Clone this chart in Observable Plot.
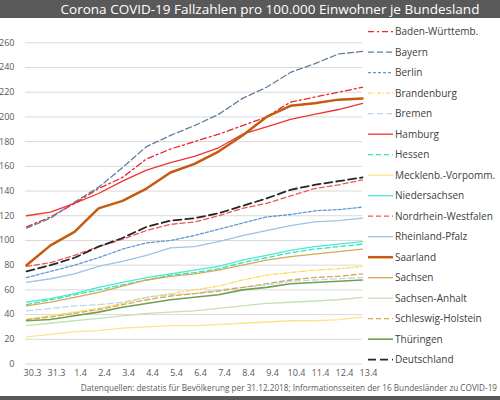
<!DOCTYPE html>
<html><head><meta charset="utf-8">
<script src="https://cdn.jsdelivr.net/npm/d3@7"></script>
<script src="https://cdn.jsdelivr.net/npm/@observablehq/plot@0.6"></script>
<style>
body{margin:0;background:#fff;font-family:"Open Sans",sans-serif;}
#wrap{position:relative;width:500px;height:400px;overflow:hidden;background:#fff;}
#title{height:18px;line-height:18px;background:#595959;color:#fff;font-size:13.5px;text-align:center;padding-left:40px;box-sizing:border-box;white-space:nowrap;}
#caption{position:absolute;left:0;top:382px;width:497px;text-align:right;font-size:8.2px;color:#595959;white-space:nowrap;}
#band{position:absolute;left:0;top:396px;width:500px;height:4px;background:#595959;}
#legend{position:absolute;left:360px;top:20px;}
</style></head>
<body>
<div id="wrap">
<div id="title">Corona COVID-19 Fallzahlen pro 100.000 Einwohner je Bundesland</div>
<div id="chart"></div>
<svg id="legend" width="140" height="360"></svg>
<div id="caption">Datenquellen: destatis für Bevölkerung per 31.12.2018; Informationsseiten der 16 Bundesländer zu COVID-19</div>
<div id="band"></div>
</div>
<script>
const dates = ["30.3","31.3","1.4","2.4","3.4","4.4","5.4","6.4","7.4","8.4","9.4","10.4","11.4","12.4","13.4"];
const yTicks = [0,20,40,60,80,100,120,140,160,180,200,220,240,260];

const badenWuerttemberg = [111,119,130,142,151,166,174,180,186,193,200,212,216,220,224];
const bayern            = [110,118,131,143,159,176,185,193,202,215,224,236,243,251,253];
const berlin            = [70,75,80,86,93,98,100,104,109,114,119,121,124,125,127];
const brandenburg       = [36,39,42,45,49,54,57,60,63,68,72,74,76,77,79];
const bremen            = [43,45,47,48,50,54,56,57,60,62,64,67,68,69,70];
const hamburg           = [120,123,130,138,148,157,163,168,175,186,192,198,202,206,211];
const hessen            = [48,52,56,60,64,68,72,74,77,82,86,90,93,95,97];
const mecklenburgVorp   = [22,24,26,27,29,30,31,31,32,33,34,35,35,36,38];
const niedersachsen     = [50,53,57,62,66,70,73,76,79,84,88,92,95,97,99];
const nordrheinWestf    = [79,82,88,95,101,108,113,115,120,126,130,136,142,145,149];
const rheinlandPfalz    = [66,69,73,79,83,88,94,95,99,104,108,112,115,116,118];
const saarland          = [80,96,107,126,132,142,155,162,172,185,200,209,211,214,215];
const sachsen           = [47,50,54,58,63,68,71,73,76,80,84,87,89,91,93];
const sachsenAnhalt     = [31,33,35,37,39,41,42,43,45,47,49,50,51,52,54];
const schleswigHolstein = [36,38,41,44,48,52,55,57,59,62,65,68,70,71,73];
const thueringen        = [35,36,39,42,46,49,52,54,56,60,62,65,66,67,68];
const deutschland       = [75,80,86,95,102,111,116,118,122,128,134,141,145,148,151];

const seriesNames = ["Baden-Württemb.","Bayern","Berlin","Brandenburg","Bremen","Hamburg","Hessen","Mecklenb.-Vorpomm.","Niedersachsen","Nordrhein-Westfalen","Rheinland-Pfalz","Saarland","Sachsen","Sachsen-Anhalt","Schleswig-Holstein","Thüringen","Deutschland"];
const seriesValues = [badenWuerttemberg,bayern,berlin,brandenburg,bremen,hamburg,hessen,mecklenburgVorp,niedersachsen,nordrheinWestf,rheinlandPfalz,saarland,sachsen,sachsenAnhalt,schleswigHolstein,thueringen,deutschland];

const styles = {
  "Baden-Württemb.":     {stroke:"#e8262b", dash:"6,3,2,3", w:1.3},
  "Bayern":              {stroke:"#5f7f9f", dash:"6,3", w:1.3},
  "Berlin":              {stroke:"#5b9bd5", dash:"3,2", w:1.3},
  "Brandenburg":         {stroke:"#ffd757", dash:"4,2,1,2", w:1.3},
  "Bremen":              {stroke:"#bdd7ee", dash:"6,3", w:1.3},
  "Hamburg":             {stroke:"#ee3333", dash:null, w:1.3},
  "Hessen":              {stroke:"#33e0c8", dash:"5,3", w:1.3},
  "Mecklenb.-Vorpomm.":  {stroke:"#ffe28a", dash:null, w:1.3},
  "Niedersachsen":       {stroke:"#4de8cf", dash:null, w:1.3},
  "Nordrhein-Westfalen": {stroke:"#ee5555", dash:"5,3", w:1.3},
  "Rheinland-Pfalz":     {stroke:"#9dc3e6", dash:null, w:1.3},
  "Saarland":            {stroke:"#c55a11", dash:null, w:2.5},
  "Sachsen":             {stroke:"#d4aa50", dash:null, w:1.3},
  "Sachsen-Anhalt":      {stroke:"#c5e0b4", dash:null, w:1.3},
  "Schleswig-Holstein":  {stroke:"#d4aa50", dash:"5,3", w:1.3},
  "Thüringen":           {stroke:"#70a04f", dash:null, w:1.6},
  "Deutschland":         {stroke:"#262626", dash:"8,4", w:1.8}
};

const marks = [
  Plot.gridY(yTicks, {stroke:"#d9d9d9", strokeOpacity:1, strokeWidth:1}),
  Plot.axisY(yTicks, {tickSize:0, tickPadding:11, fontSize:9, fill:"#595959", label:null}),
  Plot.axisX(dates, {tickSize:0, tickPadding:6, fontSize:9, fill:"#595959", label:null, dx:6})
];
seriesNames.forEach((name, i) => {
  const st = styles[name];
  const rows = seriesValues[i].map((v, j) => ({date: dates[j], value: v}));
  marks.push(Plot.line(rows, {x:"date", y:"value", stroke: st.stroke, strokeWidth: st.w, strokeDasharray: st.dash ?? undefined}));
});

const chart = Plot.plot({
  width: 500,
  height: 362,
  marginLeft: 25,
  marginRight: 138,
  marginTop: 24.3,
  marginBottom: 16.5,
  x: {type:"point", domain: dates, padding: 0},
  y: {domain:[0,260]},
  style: {fontFamily:"'Open Sans', sans-serif", background:"transparent"},
  marks
});
document.getElementById("chart").appendChild(chart);

// legend
const leg = d3.select("#legend");
seriesNames.forEach((name, i) => {
  const st = styles[name];
  const g = leg.append("g").attr("transform", `translate(0,${11.7 + i*20.5})`);
  g.append("line").attr("x1",8).attr("x2",33).attr("y1",0).attr("y2",0)
    .attr("stroke", st.stroke).attr("stroke-width", st.w)
    .attr("stroke-dasharray", st.dash);
  g.append("text").attr("x",35).attr("y",0).attr("dy","0.35em")
    .attr("font-size",10).attr("fill","#404040")
    .attr("font-family","'Open Sans', sans-serif").text(name);
});
</script>
</body></html>
